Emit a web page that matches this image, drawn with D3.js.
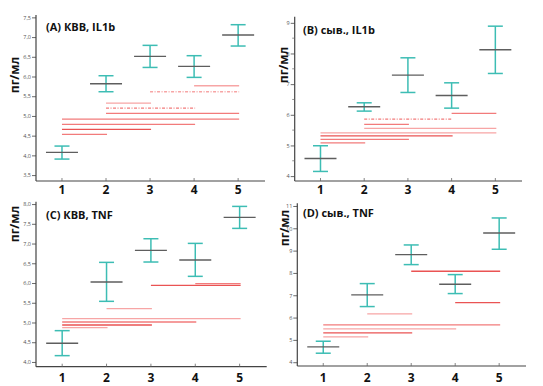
<!DOCTYPE html>
<html>
<head>
    <meta charset="utf-8">
    <title>Cytokines</title>
    <script src="https://d3js.org/d3.v7.min.js"></script>
    <style>
        body { margin: 0; background: #fff; }
        svg { display: block; }
        .axis path, .axis line { stroke: #444; }
        .ytick text { fill: #555; font-family: "Open Sans", sans-serif; font-size: 5.5px; }
        .cat { font-family: "Open Sans", sans-serif; font-weight: 700; font-size: 12px; fill: #111; }
        .ttl { font-family: "Open Sans", sans-serif; font-weight: 700; font-size: 11px; fill: #111; }
        .ylab { font-family: "Open Sans", sans-serif; font-weight: 700; font-size: 12px; fill: #111; }
    </style>
</head>
<body>
    <svg width="543" height="386" id="chart"></svg>

    <script>
        // groups on x
        const groups = [1, 2, 3, 4, 5];

        // (A) KBB, IL1b
        const aMean = [4.075, 5.817, 6.51, 6.257, 7.052];
        const aLow  = [3.906, 5.614, 6.23, 5.978, 6.773];
        const aHigh = [4.236, 6.02, 6.79, 6.528, 7.314];
        // [from group, to group, level]
        const aComp = [[4, 5, 5.766], [3, 5, 5.614], [2, 3, 5.327], [2, 4, 5.20], [2, 5, 5.064],
                       [1, 5, 4.921], [1, 4, 4.785], [1, 3, 4.659], [1, 2, 4.532]];
        const aTicks = [3.5, 4.0, 4.5, 5.0, 5.5, 6.0, 6.5, 7.0, 7.5];

        // (B) serum, IL1b
        const bMean = [4.576, 6.261, 7.293, 6.63, 8.12];
        const bLow  = [4.152, 6.12, 6.728, 6.217, 7.348];
        const bHigh = [4.99, 6.391, 7.859, 7.043, 8.891];
        const bComp = [[4, 5, 6.043], [2, 4, 5.859], [2, 3, 5.685], [2, 5, 5.554],
                       [1, 5, 5.413], [1, 4, 5.315], [1, 3, 5.196], [1, 2, 5.087]];
        const bTicks = [4, 5, 6, 7, 8, 9];

        // (C) KBB, TNF
        const cMean = [4.473, 6.025, 6.827, 6.582, 7.662];
        const cLow  = [4.16, 5.536, 6.532, 6.169, 7.384];
        const cHigh = [4.793, 6.523, 7.122, 7.004, 7.941];
        const cComp = [[4, 5, 5.983], [3, 5, 5.941], [2, 3, 5.35], [1, 5, 5.097],
                       [1, 4, 5.013], [1, 3, 4.937], [1, 2, 4.869]];
        const cTicks = [4.0, 4.5, 5.0, 5.5, 6.0, 6.5, 7.0, 7.5, 8.0];

        // (D) serum, TNF
        const dMean = [4.687, 7.015, 8.821, 7.493, 9.791];
        const dLow  = [4.403, 6.493, 8.373, 7.075, 9.06];
        const dHigh = [4.94, 7.522, 9.254, 7.925, 10.463];
        const dComp = [[3, 5, 8.075], [4, 5, 6.672], [2, 3, 6.164], [1, 5, 5.672],
                       [1, 4, 5.493], [1, 3, 5.313], [1, 2, 5.134]];
        const dTicks = [4, 5, 6, 7, 8, 9, 10, 11];

        const titles = ["(A) КВВ, IL1b", "(B) сыв., IL1b", "(C) КВВ, TNF", "(D) сыв., TNF"];
        const yLabel = "пг/мл";

        // styling of the comparison lines (index into comp arrays): tone + dash
        const compStyle = [
            ["light", "solid"], ["light", "dashdot"], ["light", "solid"], ["mid", "dashdot"], ["mid", "solid"],
            ["mid", "solid"], ["mid", "solid"], ["dark", "solid"], ["mid", "solid"]
        ];
        const compStyleB = [["mid", "solid"], ["mid", "dashdot"], ["mid", "solid"], ["light", "solid"],
                            ["light", "solid"], ["dark", "solid"], ["mid", "solid"], ["mid", "solid"]];
        const compStyleC = [["mid", "solid"], ["dark", "solid"], ["light", "solid"], ["light", "solid"],
                            ["mid", "solid"], ["dark", "solid"], ["light", "solid"]];
        const compStyleD = [["dark", "solid"], ["dark", "solid"], ["light", "solid"], ["mid", "solid"],
                            ["light", "solid"], ["dark", "solid"], ["light", "solid"]];
        const tones = { light: "#f7a5a5", mid: "#f27b7b", dark: "#ea5353" };

        const panels = [
            { mean: aMean, low: aLow, high: aHigh, comp: aComp, ticks: aTicks, style: compStyle, comma: true,
              x0: 36, x1: 265, yTop: 15, yBot: 181, ydom: [3.35, 7.56], title: [46, 31], ylab: [15, 75], catY: 194 },
            { mean: bMean, low: bLow, high: bHigh, comp: bComp, ticks: bTicks, style: compStyleB, comma: false, minor: true,
              x0: 294.7, x1: 522, yTop: 16.7, yBot: 181, ydom: [3.84, 9.2], title: [303, 34], ylab: [284, 65], catY: 194 },
            { mean: cMean, low: cLow, high: cHigh, comp: cComp, ticks: cTicks, style: compStyleC, comma: true,
              x0: 36, x1: 266.7, yTop: 201.7, yBot: 366.7, ydom: [3.88, 8.06], title: [46, 219], ylab: [15, 224], catY: 382 },
            { mean: dMean, low: dLow, high: dHigh, comp: dComp, ticks: dTicks, style: compStyleD, comma: false,
              x0: 297.3, x1: 526, yTop: 203.3, yBot: 366, ydom: [3.83, 11.12], title: [303, 217], ylab: [285, 228], catY: 382 }
        ];

        const svg = d3.select("#chart");
        const fmtComma = v => d3.format(".1f")(v).replace(".", ",");

        panels.forEach((p, pi) => {
            const g = svg.append("g");
            const x = d3.scaleLinear().domain([0.41, 5.61]).range([p.x0, p.x1]);
            const y = d3.scaleLinear().domain(p.ydom).range([p.yBot, p.yTop]);

            // y axis
            const yAxis = d3.axisLeft(y).tickValues(p.ticks).tickSize(4).tickPadding(1)
                .tickFormat(p.comma ? fmtComma : d3.format("d"));
            const ya = g.append("g").attr("class", "axis ytick")
                .attr("transform", `translate(${p.x0},0)`).call(yAxis);
            ya.select(".domain").attr("d", `M0,${p.yTop}V${p.yBot}`).attr("stroke-width", 1.2);
            ya.selectAll(".tick line").attr("stroke-width", 0.8);

            if (p.minor) {
                const minorTicks = p.ticks.slice(0, -1).map(t => t + 0.5);
                g.selectAll(".minor").data(minorTicks).enter().append("line")
                    .attr("x1", p.x0 - 2.5).attr("x2", p.x0)
                    .attr("y1", d => y(d)).attr("y2", d => y(d))
                    .attr("stroke", "#666").attr("stroke-width", 0.7);
            }

            // x axis
            g.append("line").attr("x1", p.x0).attr("x2", p.x1)
                .attr("y1", p.yBot).attr("y2", p.yBot)
                .attr("stroke", "#444").attr("stroke-width", 1.2);
            g.selectAll(".xt").data(groups).enter().append("line")
                .attr("x1", d => x(d)).attr("x2", d => x(d))
                .attr("y1", p.yBot).attr("y2", p.yBot - 3)
                .attr("stroke", "#666").attr("stroke-width", 0.8);
            g.selectAll(".cat").data(groups).enter().append("text")
                .attr("class", "cat")
                .attr("x", d => x(d)).attr("y", p.catY)
                .attr("text-anchor", "middle")
                .text(d => d);

            // comparison lines
            g.selectAll(".comp").data(p.comp).enter().append("line")
                .attr("x1", d => x(d[0])).attr("x2", d => x(d[1]) + 1)
                .attr("y1", d => y(d[2])).attr("y2", d => y(d[2]))
                .attr("stroke", (d, i) => tones[p.style[i][0]])
                .attr("stroke-width", 1.3)
                .attr("stroke-dasharray", (d, i) => p.style[i][1] === "dashdot" ? "3,1.5,1,1.5" : null);

            // error bars
            const cap = 7.5, half = 16;
            const eb = g.selectAll(".eb").data(groups).enter().append("g");
            eb.append("line")
                .attr("x1", d => x(d)).attr("x2", d => x(d))
                .attr("y1", (d, i) => y(p.low[i])).attr("y2", (d, i) => y(p.high[i]))
                .attr("stroke", "#3dbdb4").attr("stroke-width", 1.5);
            eb.append("line")
                .attr("x1", d => x(d) - cap).attr("x2", d => x(d) + cap)
                .attr("y1", (d, i) => y(p.low[i])).attr("y2", (d, i) => y(p.low[i]))
                .attr("stroke", "#3dbdb4").attr("stroke-width", 1.5);
            eb.append("line")
                .attr("x1", d => x(d) - cap).attr("x2", d => x(d) + cap)
                .attr("y1", (d, i) => y(p.high[i])).attr("y2", (d, i) => y(p.high[i]))
                .attr("stroke", "#3dbdb4").attr("stroke-width", 1.5);
            eb.append("line")
                .attr("x1", d => x(d) - half).attr("x2", d => x(d) + half)
                .attr("y1", (d, i) => y(p.mean[i])).attr("y2", (d, i) => y(p.mean[i]))
                .attr("stroke", "#5e5e5e").attr("stroke-width", 1.4);

            // title and y label
            g.append("text").attr("class", "ttl")
                .attr("x", p.title[0]).attr("y", p.title[1])
                .text(titles[pi]);
            g.append("text").attr("class", "ylab")
                .attr("transform", `translate(${p.ylab[0]},${p.ylab[1]}) rotate(-90)`)
                .attr("text-anchor", "middle")
                .attr("dy", "0.35em")
                .text(yLabel);
        });
    </script>
</body>
</html>
